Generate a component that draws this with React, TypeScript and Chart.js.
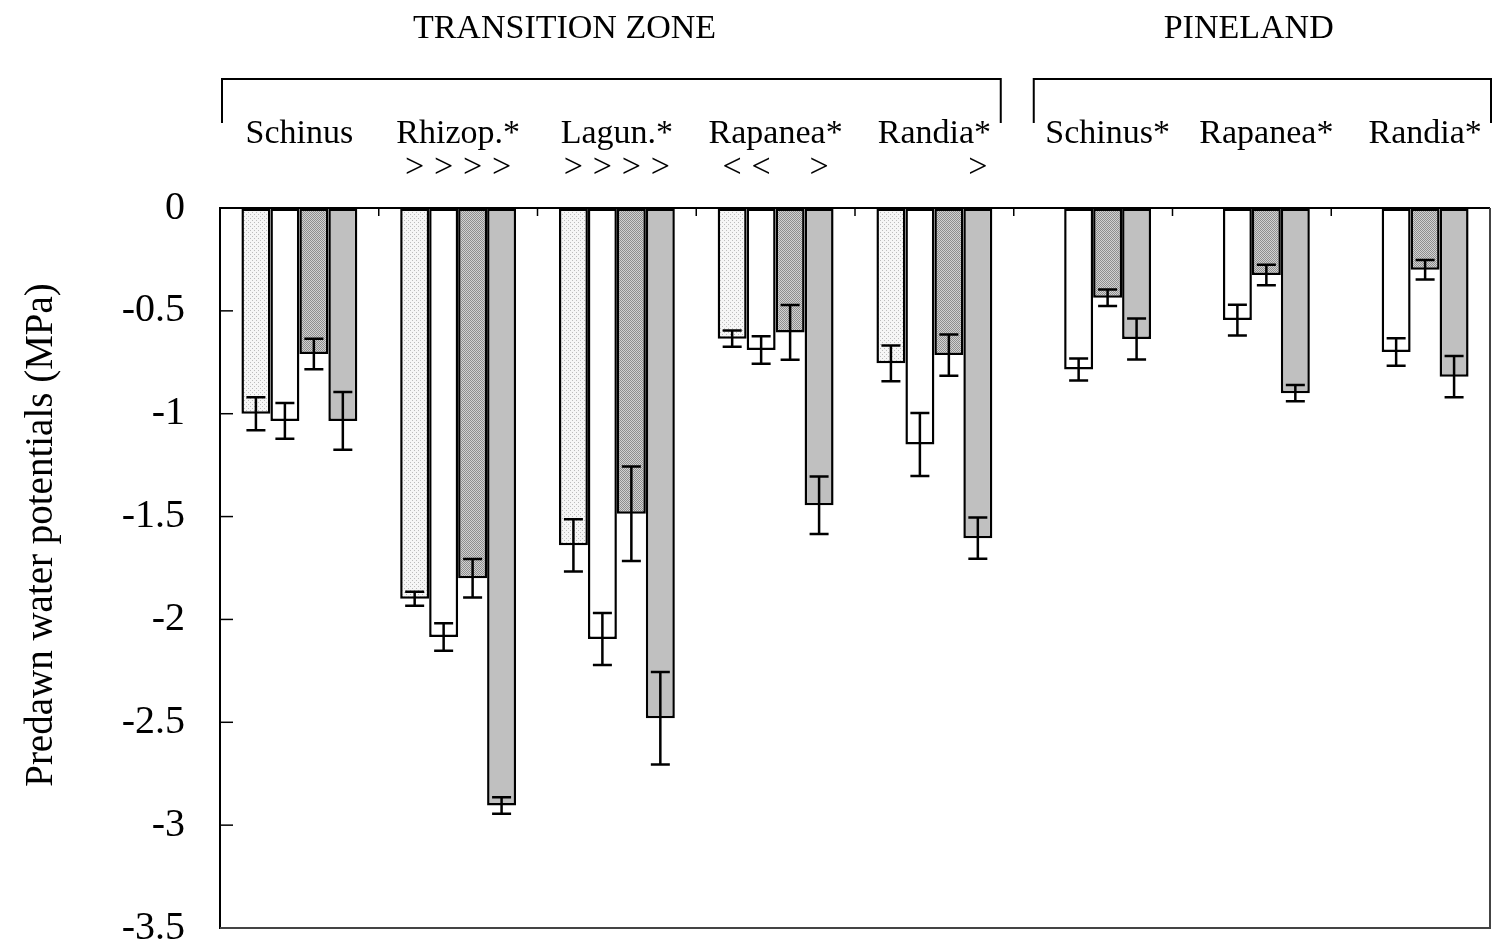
import React, { useEffect, useRef } from "react";
import { Chart, registerables } from "chart.js";

Chart.register(...registerables);

// ---- data ----
const categories = ["Schinus", "Rhizop.*", "Lagun.*", "Rapanea*", "Randia*", "Schinus*", "Rapanea*", "Randia*"];
const zoneLabels = ["TRANSITION ZONE", "PINELAND"];
const yTickValues = [0, -0.5, -1, -1.5, -2, -2.5, -3, -3.5];

const series1 = [-1.0, -1.9, -1.64, -0.635, -0.755, null, null, null];
const series1Err = [0.08, 0.034, 0.127, 0.04, 0.087, null, null, null];
const series2 = [-1.035, -2.085, -2.095, -0.69, -1.15, -0.785, -0.545, -0.7];
const series2Err = [0.087, 0.067, 0.126, 0.067, 0.153, 0.053, 0.075, 0.067];
const series3 = [-0.71, -1.8, -1.486, -0.605, -0.715, -0.436, -0.326, -0.3];
const series3Err = [0.074, 0.094, 0.23, 0.133, 0.1, 0.04, 0.05, 0.047];
const series4 = [-1.035, -2.905, -2.48, -1.445, -1.605, -0.637, -0.9, -0.82];
const series4Err = [0.14, 0.04, 0.225, 0.14, 0.1, 0.1, 0.04, 0.1];

const symbols = [
  ["", "", "", ""],
  [">", ">", ">", ">"],
  [">", ">", ">", ">"],
  ["<", "<", "", ">"],
  ["", "", "", ">"],
  ["", "", "", ""],
  ["", "", "", ""],
  ["", "", "", ""],
];

const errors = [series1Err, series2Err, series3Err, series4Err];

const SERIF = "'Liberation Serif', 'Times New Roman', serif";

function makePattern(kind: number): CanvasPattern | string {
  const c = document.createElement("canvas");
  const g = c.getContext("2d")!;
  if (kind === 1) {
    c.width = 4;
    c.height = 4;
    g.fillStyle = "#f6f6f6";
    g.fillRect(0, 0, 4, 4);
    g.fillStyle = "#bcbcbc";
    g.fillRect(0, 0, 1, 1);
    g.fillRect(2, 2, 1, 1);
  } else {
    c.width = 2;
    c.height = 2;
    g.fillStyle = "#d2d2d2";
    g.fillRect(0, 0, 2, 2);
    g.fillStyle = "#8e8e8e";
    g.fillRect(0, 0, 1, 1);
    g.fillRect(1, 1, 1, 1);
  }
  const p = g.createPattern(c, "repeat");
  return p || "#cccccc";
}

const decorPlugin = {
  id: "decor",
  afterDatasetsDraw(chart: any) {
    const ctx = chart.ctx;
    const y = chart.scales.y;
    ctx.save();
    ctx.strokeStyle = "#000";
    ctx.lineWidth = 2.5;
    const allSeries = [series1, series2, series3, series4];
    allSeries.forEach((vals, d) => {
      const meta = chart.getDatasetMeta(d);
      vals.forEach((v, i) => {
        const e = errors[d][i];
        if (v === null || e === null) return;
        const el = meta.data[i];
        const x = el.x;
        const y1 = y.getPixelForValue(v + e);
        const y2 = y.getPixelForValue(v - e);
        ctx.beginPath();
        ctx.moveTo(x, y1);
        ctx.lineTo(x, y2);
        ctx.moveTo(x - 9.5, y1);
        ctx.lineTo(x + 9.5, y1);
        ctx.moveTo(x - 9.5, y2);
        ctx.lineTo(x + 9.5, y2);
        ctx.stroke();
      });
    });
    ctx.restore();
  },
  afterDraw(chart: any) {
    const ctx = chart.ctx;
    const a = chart.chartArea;
    const xs = chart.scales.x;
    const ys = chart.scales.y;
    const catW = (a.right - a.left) / categories.length;
    ctx.save();
    ctx.strokeStyle = "#000";
    ctx.fillStyle = "#000";

    // frame
    ctx.lineWidth = 2;
    ctx.beginPath();
    ctx.moveTo(a.left, a.top);
    ctx.lineTo(a.right, a.top);
    ctx.moveTo(a.left, a.top);
    ctx.lineTo(a.left, a.bottom);
    ctx.stroke();
    ctx.strokeStyle = "#444";
    ctx.beginPath();
    ctx.moveTo(a.left, a.bottom);
    ctx.lineTo(a.right, a.bottom);
    ctx.lineTo(a.right, a.top);
    ctx.stroke();

    // y ticks (inward)
    ctx.strokeStyle = "#000";
    ctx.lineWidth = 1.5;
    yTickValues.forEach((v) => {
      if (v === 0 || v === -3.5) return;
      const py = ys.getPixelForValue(v);
      ctx.beginPath();
      ctx.moveTo(a.left, py);
      ctx.lineTo(a.left + 13, py);
      ctx.stroke();
    });

    // top ticks at category boundaries
    for (let i = 1; i < categories.length; i++) {
      const px = xs.getPixelForValue(i) - catW / 2;
      ctx.beginPath();
      ctx.moveTo(px, a.top);
      ctx.lineTo(px, a.top + 8);
      ctx.stroke();
    }

    // category labels and symbols
    const allSeries = [series1, series2, series3, series4];
    ctx.textAlign = "center";
    ctx.textBaseline = "alphabetic";
    categories.forEach((lab, i) => {
      let sum = 0;
      let n = 0;
      allSeries.forEach((vals, d) => {
        if (vals[i] !== null) {
          sum += chart.getDatasetMeta(d).data[i].x;
          n++;
        }
      });
      const cx = sum / n;
      ctx.font = `34px ${SERIF}`;
      ctx.fillText(lab, cx, a.top - 65);
      ctx.font = `34px ${SERIF}`;
      ctx.textBaseline = "middle";
      symbols[i].forEach((s, d) => {
        if (!s) return;
        const el = chart.getDatasetMeta(d).data[i];
        ctx.fillText(s, el.x, a.top - 40);
      });
      ctx.textBaseline = "alphabetic";
    });

    // brackets
    ctx.lineWidth = 2;
    const top = a.top - 129;
    const drop = a.top - 85;
    const b1l = a.left + 2;
    const b1r = xs.getPixelForValue(5) - catW / 2 - 13;
    const b2l = xs.getPixelForValue(5) - catW / 2 + 20;
    const b2r = a.right + 1;
    ctx.beginPath();
    ctx.moveTo(b1l, drop);
    ctx.lineTo(b1l, top);
    ctx.lineTo(b1r, top);
    ctx.lineTo(b1r, drop);
    ctx.moveTo(b2l, drop);
    ctx.lineTo(b2l, top);
    ctx.lineTo(b2r, top);
    ctx.lineTo(b2r, drop);
    ctx.stroke();

    // zone labels
    ctx.font = `34px ${SERIF}`;
    ctx.fillText(zoneLabels[0], xs.getPixelForValue(1.67), a.top - 170);
    ctx.fillText(zoneLabels[1], xs.getPixelForValue(5.98), a.top - 170);

    // y title
    ctx.save();
    ctx.translate(42, (a.top + a.bottom) / 2 - 33);
    ctx.rotate(-Math.PI / 2);
    ctx.font = `39px ${SERIF}`;
    ctx.textBaseline = "middle";
    ctx.textAlign = "center";
    ctx.fillText("Predawn water potentials (MPa)", 0, 0);
    ctx.restore();

    ctx.restore();
  },
};

export default function App() {
  const ref = useRef<HTMLCanvasElement | null>(null);
  useEffect(() => {
    if (!ref.current) return;
    const fills = [makePattern(1), "#ffffff", makePattern(3), "#c0c0c0"];
    const allSeries = [series1, series2, series3, series4];
    const chart = new Chart(ref.current, {
      type: "bar",
      data: {
        labels: categories,
        datasets: allSeries.map((vals, d) => ({
          label: `series${d + 1}`,
          data: vals as any,
          backgroundColor: fills[d] as any,
          borderColor: "#000",
          borderWidth: 2.5,
          borderSkipped: false,
          categoryPercentage: 0.73,
          barPercentage: 1,
        })),
      },
      options: {
        responsive: false,
        devicePixelRatio: 1,
        animation: false,
        layout: { padding: { left: 8, top: 208, right: 5, bottom: 22 } },
        plugins: { legend: { display: false }, tooltip: { enabled: false } },
        scales: {
          x: { display: false },
          y: {
            min: -3.5,
            max: 0,
            position: "left",
            afterFit: (s: any) => {
              s.width = 212;
              s.paddingTop = 0;
              s.paddingBottom = 0;
            },
            ticks: {
              stepSize: 0.5,
              color: "#000",
              padding: 35,
              font: { family: "Liberation Serif", size: 40 },
              callback: (v: any) => String(Math.round(Number(v) * 10) / 10),
            },
            grid: { drawOnChartArea: false, drawTicks: false },
            border: { display: true, color: "#000", width: 2 },
          },
        },
      },
      plugins: [decorPlugin],
    });
    return () => chart.destroy();
  }, []);
  return (
    <div style={{ position: "absolute", left: 0, top: 0, width: 1495, height: 950, background: "#fff" }}>
      <canvas ref={ref} width={1495} height={950} />
    </div>
  );
}
